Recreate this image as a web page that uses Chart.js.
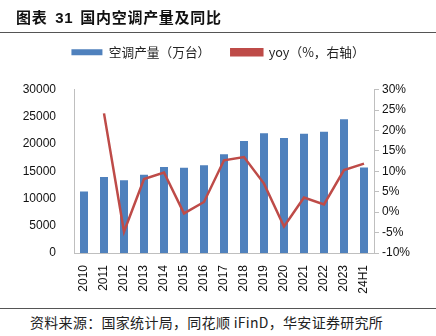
<!DOCTYPE html>
<html>
<head>
<meta charset="utf-8">
<script src="https://cdn.jsdelivr.net/npm/chart.js@4"></script>
<style>
  body { margin: 0; background: #fff; width: 436px; height: 336px; position: relative; overflow: hidden; }
  #title { position: absolute; left: 16px; top: 6px; font: bold 15px "Noto Sans CJK SC", sans-serif; color: #111; letter-spacing: 0.7px; z-index: 2; }
  #title .num { font-family: "Liberation Sans", Arial, sans-serif; margin: 0 7px 0 3px; }
  .rule { position: absolute; left: 0; width: 436px; height: 1px; background: #555; z-index: 2; }
  #box { position: absolute; left: 0; top: 21px; width: 436px; height: 285px; }
  #source { position: absolute; left: 30px; top: 312px; font: 14px "Noto Sans CJK SC", sans-serif; color: #222; letter-spacing: 0.3px; }
</style>
</head>
<body>
<div id="title">图表<span class="num"> 31</span>国内空调产量及同比</div>
<div class="rule" style="top:32px"></div>
<div id="box"><canvas id="chart"></canvas></div>
<div class="rule" style="top:308px"></div>
<div id="source">资料来源：国家统计局，同花顺 iFinD，华安证券研究所</div>
<script>
const years = ['2010','2011','2012','2013','2014','2015','2016','2017','2018','2019','2020','2021','2022','2023','24H1'];
const output = [11300, 13950, 13350, 14390, 15790, 15680, 16100, 18120, 20560, 21980, 21110, 21900, 22290, 24550, 15730];
const yoy = [null, 24.2, -4.8, 8.1, 9.7, -0.3, 2.5, 12.7, 13.5, 7.0, -3.5, 3.6, 1.9, 10.3, 11.9];

const tickFont = { family: '"Liberation Sans", Arial, sans-serif', size: 12 };

// extra room under the legend
const legendSpace = {
  id: 'legendSpace',
  beforeInit(chart) {
    const fit = chart.legend.fit;
    chart.legend.fit = function () {
      fit.call(this);
      this.height += 21;
    };
  }
};

const ctx = document.getElementById('chart').getContext('2d');
new Chart(ctx, {
  data: {
    labels: years,
    datasets: [{
      type: 'bar',
      label: '空调产量（万台）',
      data: output,
      backgroundColor: '#4f81bd',
      barPercentage: 0.4,
      categoryPercentage: 1,
      yAxisID: 'y',
      order: 2
    }, {
      type: 'line',
      label: 'yoy（%，右轴）',
      data: yoy,
      borderColor: '#be4b48',
      backgroundColor: '#be4b48',
      borderWidth: 2.5,
      pointRadius: 0,
      tension: 0,
      yAxisID: 'y1',
      order: 1
    }]
  },
  options: {
    responsive: true,
    maintainAspectRatio: false,
    animation: false,
    layout: { padding: { top: 4, bottom: 0, left: 0, right: 0 } },
    plugins: {
      legend: {
        labels: {
          boxWidth: 31,
          boxHeight: 6,
          padding: 21,
          color: '#222',
          font: { family: '"Noto Sans CJK SC", sans-serif', size: 12.7 },
          sort: (a, b) => a.datasetIndex - b.datasetIndex
        }
      },
      tooltip: { enabled: false }
    },
    scales: {
      x: {
        grid: { display: false },
        border: { color: '#bfbfbf' },
        ticks: { minRotation: 90, maxRotation: 90, color: '#111', font: tickFont, padding: 4 },
        afterFit: s => { s.height = 53; }
      },
      y: {
        position: 'left',
        min: 0, max: 30000,
        grid: { display: false },
        border: { color: '#bfbfbf' },
        ticks: { stepSize: 5000, color: '#111', font: tickFont, padding: 10, callback: v => String(v) },
        afterFit: s => { s.width = 74; }
      },
      y1: {
        position: 'right',
        min: -10, max: 30,
        grid: { drawOnChartArea: false, color: '#bfbfbf', tickLength: 5 },
        border: { color: '#bfbfbf' },
        ticks: { stepSize: 5, color: '#111', font: tickFont, padding: 3, callback: v => v + '%' },
        afterFit: s => { s.width = 62; }
      }
    }
  },
  plugins: [legendSpace]
});
</script>
</body>
</html>
